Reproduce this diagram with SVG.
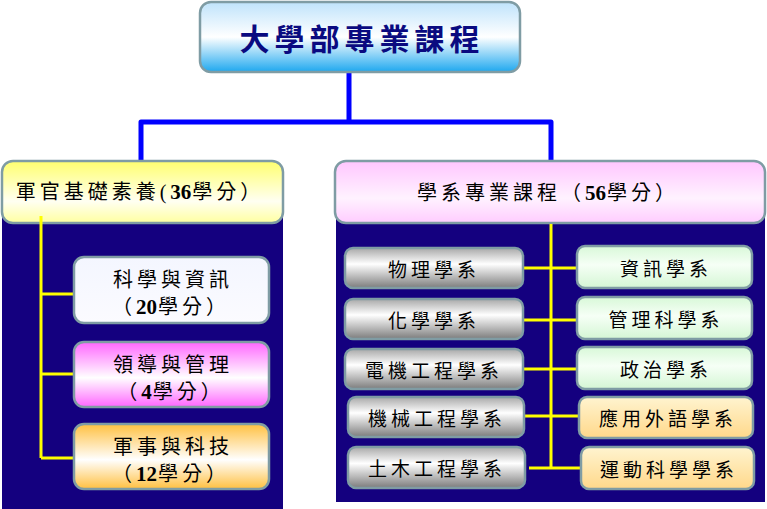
<svg xmlns="http://www.w3.org/2000/svg" width="767" height="509" viewBox="0 0 767 509">
<defs>
<linearGradient id="gTop" x1="0" y1="0" x2="0" y2="1">
<stop offset="0" stop-color="#bfe3fb"/><stop offset="0.5" stop-color="#ffffff"/><stop offset="1" stop-color="#1ea8ef"/>
</linearGradient>
<linearGradient id="gYel" x1="0" y1="0" x2="0" y2="1">
<stop offset="0" stop-color="#ffff6e"/><stop offset="0.65" stop-color="#fffff2"/><stop offset="1" stop-color="#ffffa0"/>
</linearGradient>
<linearGradient id="gPink" x1="0" y1="0" x2="0" y2="1">
<stop offset="0" stop-color="#ffc6ff"/><stop offset="0.6" stop-color="#fff2ff"/><stop offset="1" stop-color="#ffccff"/>
</linearGradient>
<linearGradient id="gWhite" x1="0" y1="0" x2="0" y2="1">
<stop offset="0" stop-color="#f4f6ff"/><stop offset="1" stop-color="#fbfbff"/>
</linearGradient>
<linearGradient id="gMag" x1="0" y1="0" x2="0" y2="1">
<stop offset="0" stop-color="#ff66ff"/><stop offset="0.55" stop-color="#ffffff"/><stop offset="1" stop-color="#ff66ff"/>
</linearGradient>
<linearGradient id="gOra" x1="0" y1="0" x2="0" y2="1">
<stop offset="0" stop-color="#ffc040"/><stop offset="0.55" stop-color="#ffffff"/><stop offset="1" stop-color="#ffc040"/>
</linearGradient>
<linearGradient id="gGray" x1="0" y1="0" x2="0" y2="1">
<stop offset="0" stop-color="#a8a8a8"/><stop offset="0.4" stop-color="#ffffff"/><stop offset="1" stop-color="#7c7c7c"/>
</linearGradient>
<linearGradient id="gGreen" x1="0" y1="0" x2="0" y2="1">
<stop offset="0" stop-color="#d8f8d8"/><stop offset="0.45" stop-color="#f6fff6"/><stop offset="1" stop-color="#d4f6d4"/>
</linearGradient>
<linearGradient id="gPeach" x1="0" y1="0" x2="0" y2="1">
<stop offset="0" stop-color="#fff4d0"/><stop offset="1" stop-color="#ffd88a"/>
</linearGradient>
</defs>
<style>
.box{stroke:#7f9ca4;stroke-width:2.5}
.t{font-family:"Liberation Serif","Noto Sans CJK TC",serif;fill:#000;text-anchor:middle}
.big{font-size:30px;letter-spacing:5px;fill:#0a0a80;font-weight:bold}
.hd{font-size:20px;letter-spacing:4px}
.sm{font-size:19px;letter-spacing:4px}
.num{font-weight:bold;font-size:21px;letter-spacing:0}
.blue{fill:none;stroke:#0000ff;stroke-width:5;stroke-linejoin:round}
.yel{fill:none;stroke:#ffff00;stroke-width:3}
.panel{fill:#14007f}
</style>
<rect width="767" height="509" fill="#ffffff"/>
<rect class="panel" x="2" y="200" width="281" height="309"/>
<rect class="panel" x="336" y="205" width="429" height="297"/>

<g id="connectors">
<path class="blue" d="M349,72 V122 M141,160 V122 H551 V160"/>
</g>

<g id="n-top"><rect class="box" x="200" y="2" width="320" height="70" rx="11" fill="url(#gTop)"/>
<text class="t big" x="362" y="50">大學部專業課程</text></g>

<g id="n-left"><rect class="box" x="2" y="161" width="281" height="62" rx="11" fill="url(#gYel)"/>
<text class="t hd" x="140" y="199">軍官基礎素養(<tspan class="num">36</tspan><tspan dx="1">學分）</tspan></text></g>

<g id="n-right"><rect class="box" x="335" y="161" width="430" height="62" rx="11" fill="url(#gPink)"/>
<text class="t hd" x="548" y="200">學系專業課程（<tspan class="num">56</tspan><tspan dx="1">學分）</tspan></text></g>

<g id="connectors-yellow">
<path class="yel" d="M41,216 V458 M41,294 H74 M41,374 H74 M41,458 H74"/>
<path class="yel" d="M551,224 V468 M524,268 H577 M523,320 H577 M524,369 H577 M524,416 H579 M529,468 H581"/>
</g>

<g id="n-sci"><rect class="box" x="74" y="257" width="195" height="66" rx="10" fill="url(#gWhite)"/>
<text class="t hd" x="173" y="287">科學與資訊</text><text class="t hd" x="171" y="314">（<tspan class="num">20</tspan><tspan dx="1">學分）</tspan></text></g>
<g id="n-lead"><rect class="box" x="74" y="342" width="195" height="65" rx="10" fill="url(#gMag)"/>
<text class="t hd" x="173" y="372">領導與管理</text><text class="t hd" x="171" y="399">（<tspan class="num">4</tspan><tspan dx="1">學分）</tspan></text></g>
<g id="n-mil"><rect class="box" x="74" y="424" width="195" height="65" rx="10" fill="url(#gOra)"/>
<text class="t hd" x="173" y="454">軍事與科技</text><text class="t hd" x="171" y="481">（<tspan class="num">12</tspan><tspan dx="1">學分）</tspan></text></g>

<g id="n-phy"><rect class="box" x="345" y="248" width="178" height="40" rx="8" fill="url(#gGray)"/><text class="t sm" x="434" y="277">物理學系</text></g>
<g id="n-chem"><rect class="box" x="345" y="299" width="178" height="40" rx="8" fill="url(#gGray)"/><text class="t sm" x="434" y="328">化學學系</text></g>
<g id="n-ee"><rect class="box" x="345" y="349" width="178" height="40" rx="8" fill="url(#gGray)"/><text class="t sm" x="434" y="378">電機工程學系</text></g>
<g id="n-me"><rect class="box" x="348" y="397" width="176" height="40" rx="8" fill="url(#gGray)"/><text class="t sm" x="437" y="426">機械工程學系</text></g>
<g id="n-ce"><rect class="box" x="348" y="447" width="177" height="41" rx="8" fill="url(#gGray)"/><text class="t sm" x="437" y="476">土木工程學系</text></g>

<g id="n-info"><rect class="box" x="577" y="246" width="175" height="42" rx="8" fill="url(#gGreen)"/><text class="t sm" x="666" y="276">資訊學系</text></g>
<g id="n-mgmt"><rect class="box" x="577" y="297" width="175" height="42" rx="8" fill="url(#gGreen)"/><text class="t sm" x="666" y="327">管理科學系</text></g>
<g id="n-pol"><rect class="box" x="577" y="347" width="175" height="42" rx="8" fill="url(#gGreen)"/><text class="t sm" x="666" y="377">政治學系</text></g>
<g id="n-lang"><rect class="box" x="579" y="397" width="174" height="41" rx="8" fill="url(#gPeach)"/><text class="t sm" x="668" y="426">應用外語學系</text></g>
<g id="n-sport"><rect class="box" x="581" y="447" width="173" height="42" rx="8" fill="url(#gPeach)"/><text class="t sm" x="669" y="477">運動科學學系</text></g>
</svg>
